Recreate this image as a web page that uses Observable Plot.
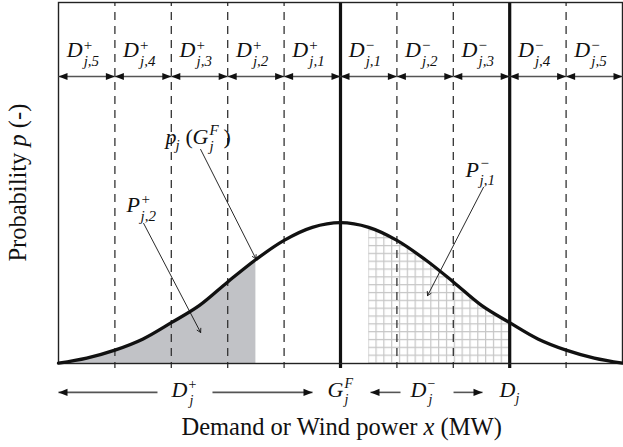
<!DOCTYPE html>
<html><head><meta charset="utf-8">
<script src="https://cdn.jsdelivr.net/npm/d3@7"></script>
<script src="https://cdn.jsdelivr.net/npm/@observablehq/plot@0.6"></script>
<style>body{margin:0;background:#fff}</style>
</head><body><div id="chart"></div>
<script>
// ---- data ----
const xValues = [-5,-4.5,-4,-3.5,-3,-2.5,-2,-1.5,-1,-0.5,0,0.5,1,1.5,2,2.5,3,3.5,4,4.5,5];
const pValues = [0.001,0.015,0.037,0.068,0.113,0.161,0.226,0.288,0.341,0.377,0.390,0.377,0.341,0.288,0.226,0.161,0.113,0.068,0.037,0.015,0.001];
const boundaries = [-5,-4,-3,-2,-1,0,1,2,3,4,5];
const dashedAt = [-4,-3,-2,-1,1,2,4];
const solidAt = [0,3];            // G_j^F and D_j
const segSign = ["+","+","+","+","+","\u2212","\u2212","\u2212","\u2212","\u2212"];
const segSub = ["j,5","j,4","j,3","j,2","j,1","j,1","j,2","j,3","j,4","j,5"];
const shadedRange = [-5,-1.5];
const hatchedRange = [0.5,3];

const SERIF = "Liberation Serif";
const curvePts = xValues.map((x,i)=>({x, p:pValues[i]}));
const segs = segSign.map((s,i)=>({x1:boundaries[i], x2:boundaries[i+1], xc:(boundaries[i]+boundaries[i+1])/2, sign:s, sub:segSub[i]}));
const shaded = curvePts.filter(d=>d.x>=shadedRange[0] && d.x<=shadedRange[1]);
const hatched = curvePts.filter(d=>d.x>=hatchedRange[0] && d.x<=hatchedRange[1]);

const headR = {draw(ctx){ctx.moveTo(0,0);ctx.lineTo(-9,-3.6);ctx.lineTo(-9,3.6);ctx.closePath();}};
const headL = {draw(ctx){ctx.moveTo(0,0);ctx.lineTo(9,-3.6);ctx.lineTo(9,3.6);ctx.closePath();}};

// layout of annotations (data units)
const TOP_ARROW = 0.795, TOP_TEXT = 0.848, BOT_ARROW = -0.080, BOT_TEXT = -0.094;
const bottomArrows = [
  {x1:-5, x2:-3.245, head:"L"},
  {x1:-2.27, x2:-0.496, head:"R"},
  {x1:0.532, x2:1.064, head:"L"},
  {x1:2.004, x2:2.518, head:"R"}
];
const callouts = [
  {x1:-2.48, y1:0.593, x2:-1.5, y2:0.29},
  {x1:-3.49, y1:0.388, x2:-2.48, y2:0.086},
  {x1:2.535, y1:0.488, x2:1.543, y2:0.188}
];

function mathLabel(x, y, pieces){
  return pieces.map(([t, dx, dy, size, italic]) => Plot.text([0], {
    x: ()=>x, y: ()=>y, text: ()=>t, dx, dy, fontSize: size,
    fontStyle: italic ? "italic" : "normal", textAnchor:"start", lineAnchor:"bottom",
    fontFamily: SERIF, fill:"#111"
  }));
}

const plot = Plot.plot({
  width: 623, height: 447,
  marginLeft: 58, marginRight: 1, marginTop: 2, marginBottom: 84,
  x: {domain:[-5,5], axis:null},
  y: {domain:[0,1], axis:null},
  style: {background:"white", overflow:"visible"},
  marks: [
    Plot.areaY(shaded, {x:"x", y:"p", fill:"#c1c2c6", curve:"catmull-rom"}),
    Plot.areaY(hatched, {x:"x", y:"p", fill:"url(#hatch)", curve:"catmull-rom"}),
    Plot.ruleX(dashedAt, {y1:1, y2:-0.014, stroke:"#333", strokeWidth:1.3, strokeDasharray:"8,6", strokeDashoffset:4}),
    Plot.ruleX(solidAt, {y1:1, y2:-0.014, stroke:"#111", strokeWidth:3.2}),
    Plot.frame({stroke:"#222", strokeWidth:1.4}),
    Plot.line(curvePts, {x:"x", y:"p", stroke:"#111", strokeWidth:3.3, curve:"catmull-rom"}),
    // top double arrows
    Plot.link(segs, {x1:"x1", x2:"x2", y1:TOP_ARROW, y2:TOP_ARROW, stroke:"#555", strokeWidth:1.6}),
    Plot.dot(segs, {x:"x2", y:TOP_ARROW, symbol:headR, fill:"#111", stroke:"none"}),
    Plot.dot(segs, {x:"x1", y:TOP_ARROW, symbol:headL, fill:"#111", stroke:"none"}),
    Plot.text(segs, {x:"xc", y:TOP_TEXT, text:()=>"D", dx:-20, fontSize:22, fontStyle:"italic", textAnchor:"start", lineAnchor:"bottom", fontFamily:SERIF, fill:"#111"}),
    Plot.text(segs, {x:"xc", y:TOP_TEXT, text:"sign", dx:-3, dy:-7, fontSize:15, textAnchor:"start", lineAnchor:"bottom", fontFamily:SERIF, fill:"#111"}),
    Plot.text(segs, {x:"xc", y:TOP_TEXT, text:"sub", dx:-3, dy:9, fontSize:15, fontStyle:"italic", textAnchor:"start", lineAnchor:"bottom", fontFamily:SERIF, fill:"#111"}),
    // bottom arrows
    Plot.link(bottomArrows, {x1:"x1", x2:"x2", y1:BOT_ARROW, y2:BOT_ARROW, stroke:"#555", strokeWidth:1.6}),
    Plot.dot(bottomArrows.filter(d=>d.head==="L"), {x:"x1", y:BOT_ARROW, symbol:headL, fill:"#111", stroke:"none"}),
    Plot.dot(bottomArrows.filter(d=>d.head==="R"), {x:"x2", y:BOT_ARROW, symbol:headR, fill:"#111", stroke:"none"}),
    ...mathLabel(-2.996, BOT_TEXT, [["D",0,0,22,true],["+",17,-8,14,false],["j",18,8,14,true]]),
    ...mathLabel(-0.23, BOT_TEXT, [["G",0,0,22,true],["F",17,-9,14,true],["j",17,7,14,true]]),
    ...mathLabel(1.241, BOT_TEXT, [["D",0,0,22,true],["\u2212",17,-9,14,false],["j",18,7,14,true]]),
    ...mathLabel(2.819, BOT_TEXT, [["D",0,0,22,true],["j",16,6,14,true]]),
    // callouts
    Plot.arrow(callouts, {x1:"x1", y1:"y1", x2:"x2", y2:"y2", stroke:"#111", strokeWidth:0.9, headLength:7}),
    ...mathLabel(-3.103, 0.609, [["p",0,0,22,true],["j",10,6,15,true],["(",20,0,22,false],["G",27,0,22,true],["F",44,-9,15,true],["j",44,7,15,true],[")",58,0,22,false]]),
    ...mathLabel(-3.794, 0.421, [["P",0,0,22,true],["+",15,-8,15,false],["j,2",14,9,15,true]]),
    ...mathLabel(2.216, 0.518, [["P",0,0,22,true],["\u2212",15,-9,15,false],["j,1",14,8,15,true]]),
    // axis labels
    Plot.text([0], {x:()=>0.02, y:()=>-0.199, text:()=>"Demand or Wind power x (MW)", fontSize:24.5, lineAnchor:"bottom", fontFamily:SERIF, fill:"#111"}),
    Plot.text([0], {x:()=>-5.585, y:()=>0.501, text:()=>"Probability p (-)", fontSize:24.5, rotate:-90, lineAnchor:"bottom", fontFamily:SERIF, fill:"#111"})
  ]
});

// serif font for every text
d3.select(plot).style("font-family", SERIF).attr("font-family", SERIF);
d3.select(plot).selectAll("text").attr("font-family", SERIF).style("font-family", SERIF);

// hatch pattern for the grid-filled area
const xs = 58 + 5.5*56.4;
const defs = d3.select(plot).insert("defs", ":first-child");
const pat = defs.append("pattern").attr("id","hatch").attr("patternUnits","userSpaceOnUse")
  .attr("x", xs-0.6).attr("y", 363-0.6).attr("width", 7.83).attr("height", 7.83);
pat.append("rect").attr("width",7.83).attr("height",7.83).attr("fill","white");
pat.append("path").attr("d","M0.6,0V7.83M0,0.6H7.83").attr("stroke","#c6c6c6").attr("stroke-width",1.2).attr("fill","none");

// italic variable letters inside axis labels
d3.select(plot).selectAll("text").each(function(){
  const t = this.textContent;
  if (t === "Demand or Wind power x (MW)" || t === "Probability p (-)") {
    const v = t.includes(" x ") ? "x" : "p";
    const [a,b] = t.split(" " + v + " ");
    const el = d3.select(this);
    el.text(null);
    el.append("tspan").text(a + " ");
    el.append("tspan").attr("font-style","italic").text(v);
    el.append("tspan").text(" " + b);
  }
});
document.getElementById("chart").append(plot);
</script>
</body></html>
